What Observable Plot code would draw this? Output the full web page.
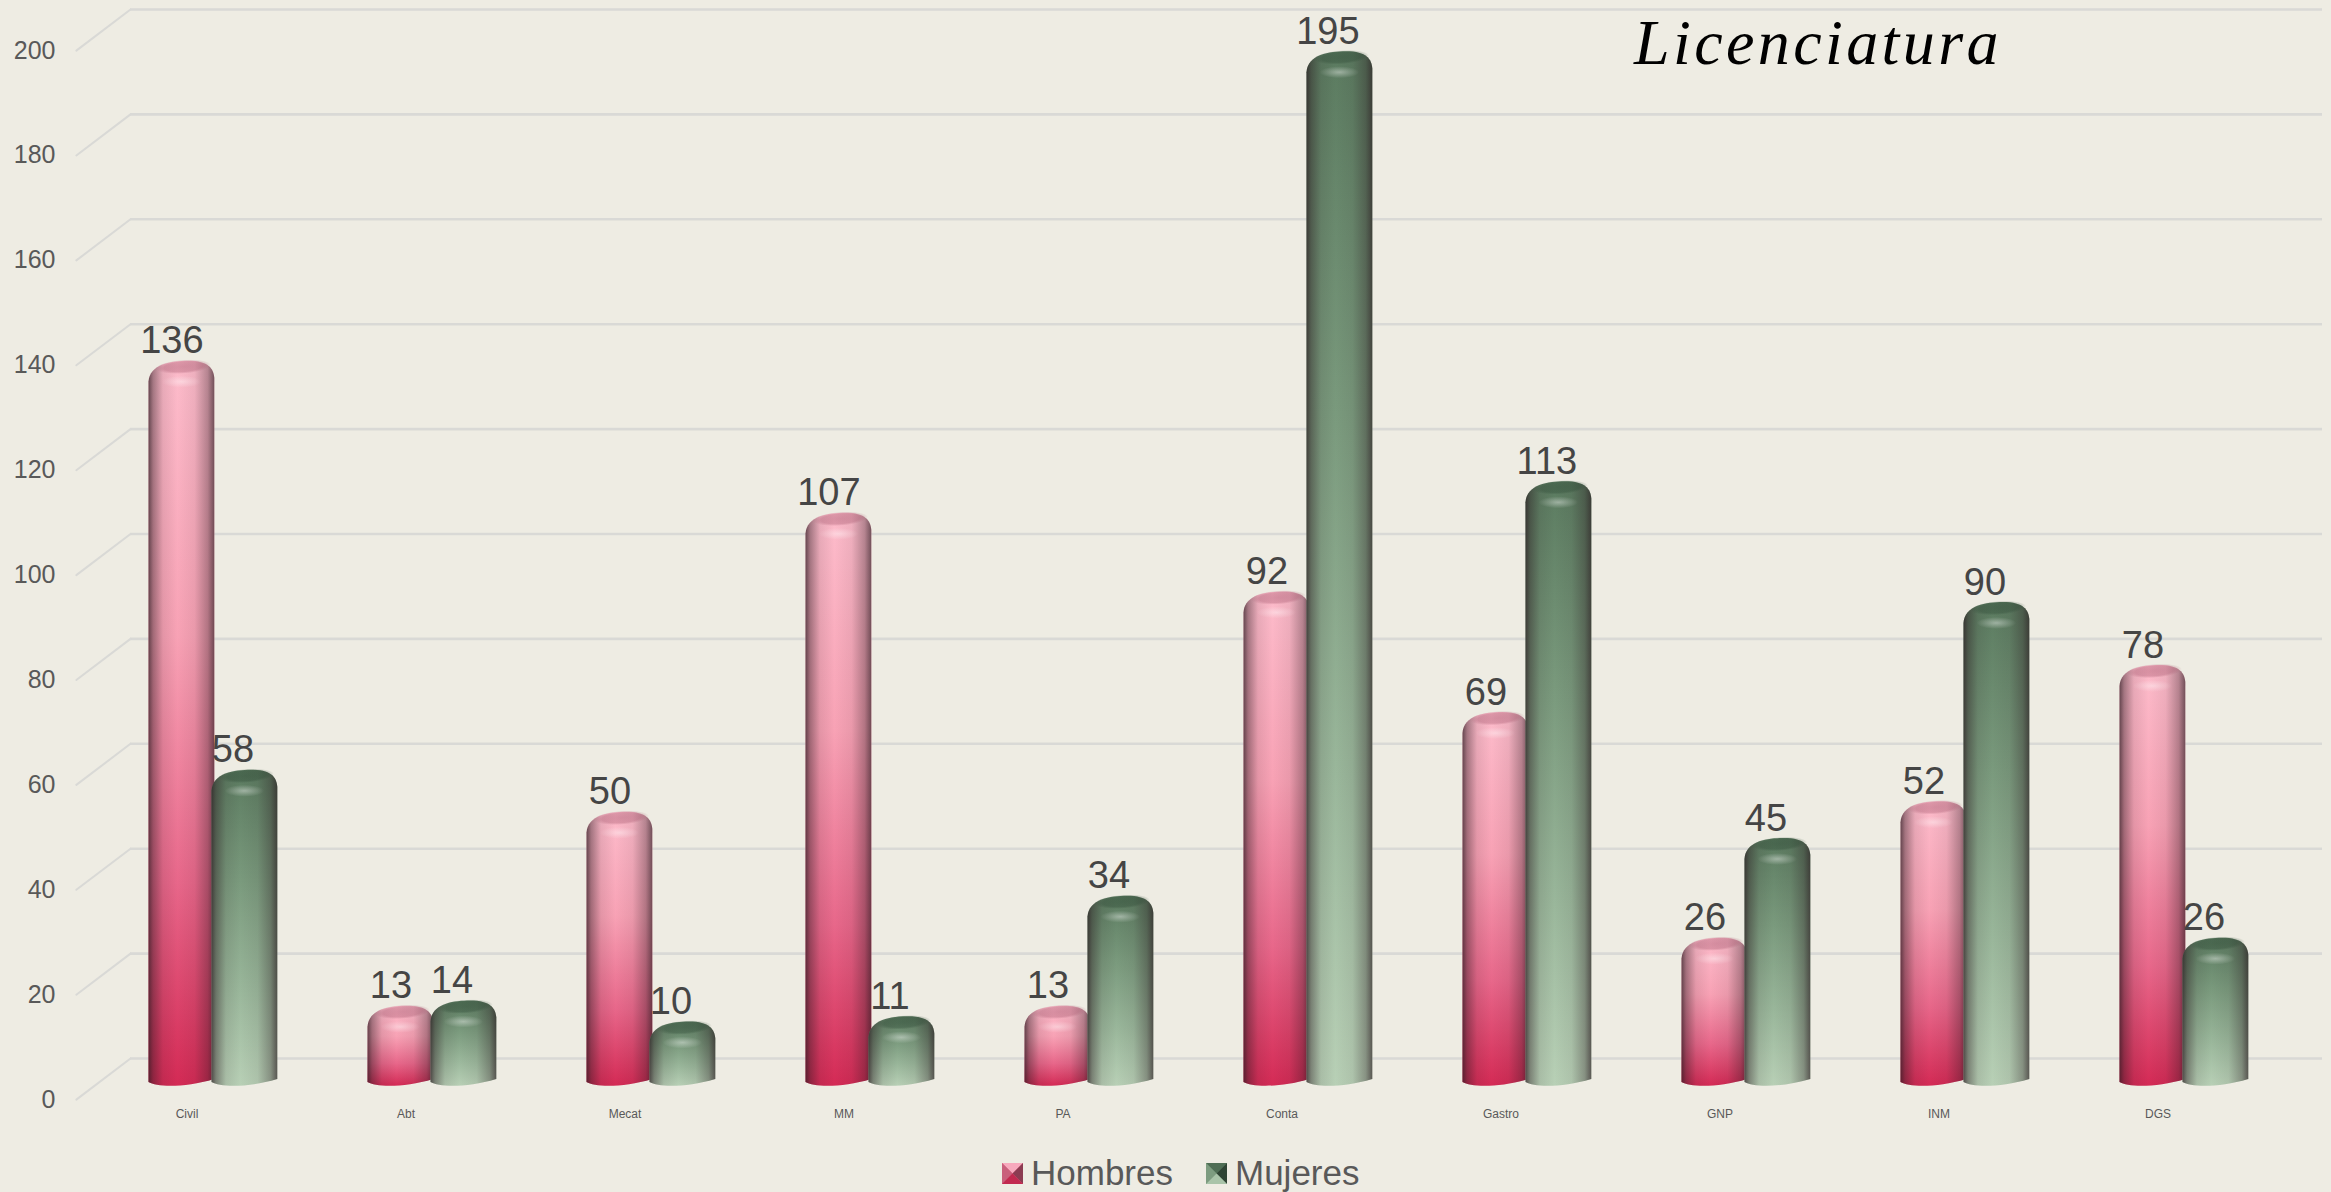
<!DOCTYPE html>
<html><head><meta charset="utf-8">
<script src="https://cdn.jsdelivr.net/npm/d3@7"></script>
<script src="https://cdn.jsdelivr.net/npm/@observablehq/plot@0.6"></script>
<style>
html,body{margin:0;padding:0;background:#eeece3;width:2331px;height:1192px;overflow:hidden}
#wrap{position:relative;width:2331px;height:1192px}
#title{position:absolute;left:1634px;top:7px;font:italic 64px/72px "Liberation Serif",serif;color:#000;letter-spacing:3.4px;white-space:nowrap}
.leg{position:absolute;top:1151px;font:35px/44px "Liberation Sans",sans-serif;color:#595959;white-space:nowrap}
.sw{position:absolute;top:1163px;width:21px;height:21px;display:block}
</style></head>
<body><div id="wrap">
<div id="chart"></div>
<div id="title">Licenciatura</div>
<svg class="sw" style="left:1002px" viewBox="0 0 21 21"><rect width="21" height="21" fill="#d8607f"/><polygon points="0,0 21,0 10.5,10.5" fill="#f7a9bd"/><polygon points="0,0 0,21 10.5,10.5" fill="#c9607c"/><polygon points="21,0 21,21 10.5,10.5" fill="#8c3c52"/><polygon points="0,21 21,21 10.5,10.5" fill="#c22a50"/></svg>
<span class="leg" style="left:1031px">Hombres</span>
<svg class="sw" style="left:1206px" viewBox="0 0 21 21"><rect width="21" height="21" fill="#6f8f73"/><polygon points="0,0 21,0 10.5,10.5" fill="#4f6e55"/><polygon points="0,0 0,21 10.5,10.5" fill="#7d9c80"/><polygon points="21,0 21,21 10.5,10.5" fill="#2f4434"/><polygon points="0,21 21,21 10.5,10.5" fill="#a9c4a9"/></svg>
<span class="leg" style="left:1235px">Mujeres</span>
</div>
<script>
const categories = ["Civil","Abt","Mecat","MM","PA","Conta","Gastro","GNP","INM","DGS"];
const hombres = [136,13,50,107,13,92,69,26,52,78];
const mujeres = [58,14,10,11,34,195,113,45,90,26];
const yTicks = [0,20,40,60,80,100,120,140,160,180,200];

const rowsH = categories.map((c,i)=>({cat:c,value:hombres[i]}));
const rowsM = categories.map((c,i)=>({cat:c,value:mujeres[i]}));

const defs = () => {
  const d = d3.create("svg:defs");
  const lin = (id,horizontal,stops) => {
    const g = d.append("linearGradient").attr("id",id).attr("x1",0).attr("y1",0)
      .attr("x2",horizontal?1:0).attr("y2",horizontal?0:1);
    stops.forEach(([o,c,a])=>g.append("stop").attr("offset",o).attr("stop-color",c).attr("stop-opacity",a??1));
  };
  const rad = (id,stops) => {
    const g = d.append("radialGradient").attr("id",id);
    stops.forEach(([o,c,a])=>g.append("stop").attr("offset",o).attr("stop-color",c).attr("stop-opacity",a));
  };
  lin("pinkV",false,[[0,"#fdbccb"],[.38,"#f8a2b5"],[.72,"#e8678a"],[1,"#d42a55"]]);
  lin("greenV",false,[[0,"#5b7b60"],[.35,"#7a9a7d"],[.7,"#9ab79b"],[1,"#b8d0b6"]]);
  lin("shade",true,[[0,"#2a1a20",.72],[.07,"#2a1a20",.42],[.22,"#2a1a20",.1],[.44,"#2a1a20",0],[.7,"#2a1a20",.07],[.9,"#2a1a20",.34],[1,"#2a1a20",.66]]);
  rad("capP",[[0,"#a85a70",.45],[.7,"#a85a70",.38],[1,"#a85a70",0]]);
  rad("capG",[[0,"#2f4a36",.45],[.7,"#2f4a36",.38],[1,"#2f4a36",0]]);
  rad("hi",[[0,"#ffffff",.4],[1,"#ffffff",0]]);
  return d.node();
};

const cylinder = (vertical,cap) => (I,scales,values,dims,ctx,next) => {
  const g = next(I,scales,values,dims,ctx);
  d3.select(g).selectAll("rect").each(function(){
    const x=+this.getAttribute("x"),y=+this.getAttribute("y"),w=+this.getAttribute("width"),h=+this.getAttribute("height");
    const L=x,R=x+w,T=y,B=y+h;
    const d=`M${L},${B}C${L+w*.12},${B+5} ${L+w*.55},${B+6} ${R},${B-3}`+
      `L${R},${T+9}C${R-1},${T} ${R-w*.08},${T-8} ${L+w*.6},${T-8}`+
      `C${L+w*.35},${T-8} ${L+1},${T-5} ${L},${T+13}Z`;
    const c=d3.create("svg:g");
    c.append("path").attr("d",d).attr("fill",`url(#${vertical})`);
    c.append("path").attr("d",d).attr("fill","url(#shade)");
    c.append("ellipse").attr("cx",L+w*.53).attr("cy",T-2).attr("rx",w*.42).attr("ry",7)
      .attr("transform",`rotate(-4 ${L+w*.53} ${T-2})`).attr("fill",`url(#${cap})`);
    c.append("ellipse").attr("cx",L+w*.5).attr("cy",T+13).attr("rx",w*.3).attr("ry",6).attr("fill","url(#hi)");
    this.replaceWith(c.node());
  });
  return g;
};

const band = 219.2, barW = 66, inset = (band-barW)/2;
const dxH = -27.6-31.5, dxM = -27.6+31.5;
const depthDy = 24;

const chart = Plot.plot({
  width:2331, height:1145,
  marginTop:9, marginBottom:87, marginLeft:130, marginRight:9,
  style:{background:"transparent",overflow:"visible"},
  x:{type:"band",domain:categories,padding:0},
  y:{domain:[0,200],nice:false,label:null},
  marks:[
    defs,
    Plot.ruleY(yTicks,{stroke:"#d9d9d6",strokeWidth:2.6}),
    Plot.vector(yTicks,{y:d=>d,frameAnchor:"left",length:68,rotate:232.8,anchor:"start",
      stroke:"#d9d9d6",strokeWidth:2,
      shape:{draw(c,l){c.moveTo(0,0);c.lineTo(0,-l);}}}),
    Plot.axisY({ticks:yTicks,tickSize:0,tickPadding:75,dy:41,fontSize:25,fill:"#595959",label:null,
      fontFamily:"Liberation Sans"}),
    Plot.axisX({tickSize:0,tickPadding:0,dx:-54,dy:51,fontSize:12,fill:"#595959",label:null,
      fontFamily:"Liberation Sans"}),
    Plot.barY(rowsH,{x:"cat",y:"value",dx:dxH,dy:depthDy,insetLeft:inset,insetRight:inset,render:cylinder("pinkV","capP")}),
    Plot.text(rowsH,{x:"cat",y:"value",text:"value",dx:dxH-10,dy:depthDy-28,fontSize:38,fill:"#454545",
      fontFamily:"Liberation Sans"}),
    Plot.barY(rowsM,{x:"cat",y:"value",dx:dxM,dy:depthDy,insetLeft:inset,insetRight:inset,render:cylinder("greenV","capG")}),
    Plot.text(rowsM,{x:"cat",y:"value",text:"value",dx:dxM-12,dy:depthDy-28,fontSize:38,fill:"#454545",
      fontFamily:"Liberation Sans"})
  ]
});
document.getElementById("chart").append(chart);
</script>
</body></html>
